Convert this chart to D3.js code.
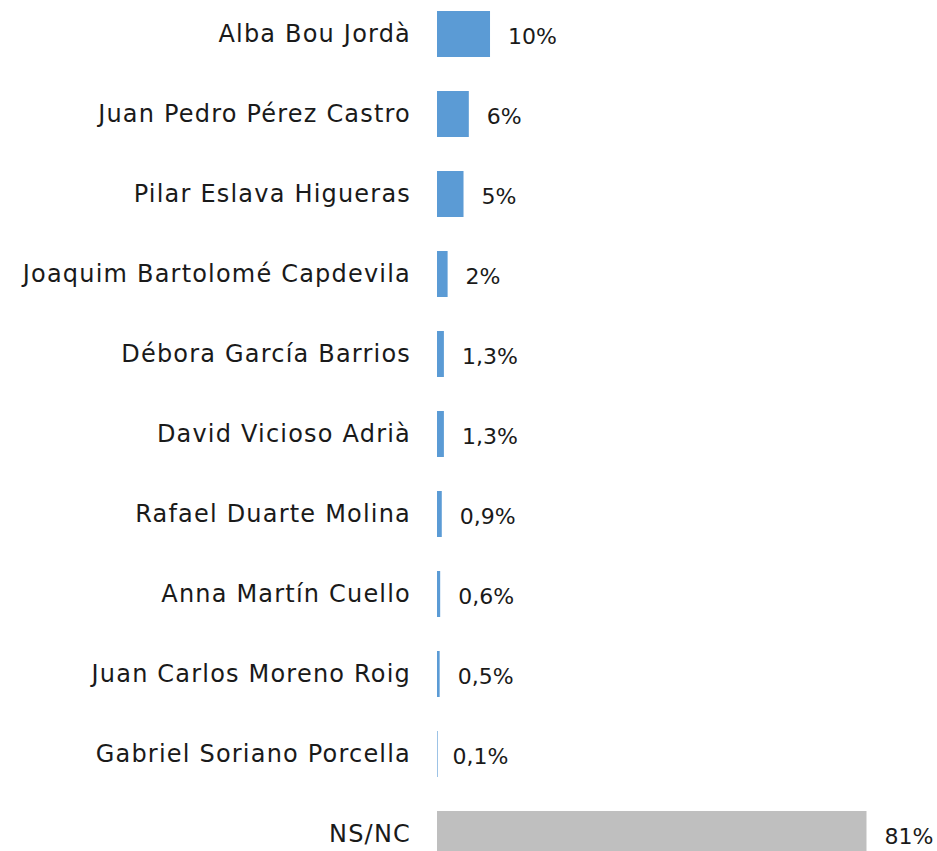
<!DOCTYPE html>
<html>
<head>
<meta charset="utf-8">
<script src="https://cdn.jsdelivr.net/npm/d3@7"></script>
<style>
  body { margin: 0; background: #fff; }
  text { font-family: "DejaVu Sans", sans-serif; fill: #1a1a1a; }
</style>
</head>
<body>
<script>
// candidates, top to bottom
const names = ["Alba Bou Jordà", "Juan Pedro Pérez Castro", "Pilar Eslava Higueras",
  "Joaquim Bartolomé Capdevila", "Débora García Barrios", "David Vicioso Adrià",
  "Rafael Duarte Molina", "Anna Martín Cuello", "Juan Carlos Moreno Roig",
  "Gabriel Soriano Porcella", "NS/NC"];
const values = [10, 6, 5, 2, 1.3, 1.3, 0.9, 0.6, 0.5, 0.1, 81];
const valueLabels = ["10%", "6%", "5%", "2%", "1,3%", "1,3%", "0,9%", "0,6%", "0,5%", "0,1%", "81%"];

const rows = names.map((n, i) => ({name: n, value: values[i], label: valueLabels[i]}));

const width = 937, height = 851;
const svg = d3.select("body").append("svg")
    .attr("width", width)
    .attr("height", height);

const y = d3.scaleBand()
    .domain(names)
    .range([-6, 874])
    .paddingInner(0.425)
    .paddingOuter(0.2125);

const x = d3.scaleLinear()
    .domain([0, 81])
    .range([437, 866.5]);

// bars
svg.selectAll("rect.bar")
  .data(rows)
  .enter()
  .append("rect")
    .attr("class", "bar")
    .attr("x", x(0))
    .attr("y", d => y(d.name))
    .attr("width", d => Math.max(1, x(d.value) - x(0)))
    .attr("height", y.bandwidth())
    .attr("fill", d => d.name == "NS/NC" ? "#bfbfbf" : "#5b9bd5")
    .attr("fill-opacity", d => d.value < 0.2 ? 0.6 : 1);

// category labels
svg.selectAll("text.name")
  .data(rows)
  .enter()
  .append("text")
    .attr("class", "name")
    .attr("x", 411)
    .attr("y", d => y(d.name) + y.bandwidth() / 2)
    .attr("text-anchor", "end")
    .attr("dominant-baseline", "central")
    .style("font-size", "24px")
    .style("letter-spacing", "1.2px")
    .text(d => d.name);

// value labels
svg.selectAll("text.val")
  .data(rows)
  .enter()
  .append("text")
    .attr("class", "val")
    .attr("x", d => x(d.value) + (d.value < 0.2 ? 15 : 18))
    .attr("y", d => y(d.name) + y.bandwidth() / 2 + 2)
    .attr("dominant-baseline", "central")
    .style("font-size", "22px")
    .text(d => d.label);
</script>
</body>
</html>
